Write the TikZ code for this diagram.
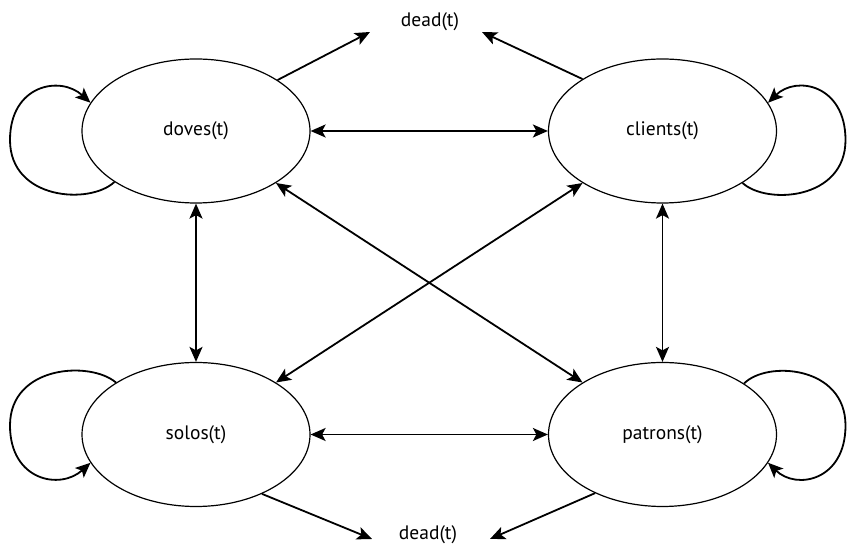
\documentclass[tikz,border=0pt]{standalone}
\usepackage{fontspec}
\setmainfont{PT Sans}
\usetikzlibrary{arrows.meta,calc,shapes.geometric}
\begin{document}
\begin{tikzpicture}[x=1pt,y=1pt,
  state/.style={ellipse,draw,line width=1.2pt,minimum width=228pt,minimum height=144pt,inner sep=0pt,font=\fontsize{19.5}{22}\selectfont},
  lbl/.style={font=\fontsize{19.5}{22}\selectfont,inner sep=0pt},
  conn/.style={line width=1.8pt,-{Stealth[length=15pt,width=13pt,inset=3.5pt]}},
  bconn/.style={line width=1.8pt,{Stealth[length=15pt,width=13pt,inset=3.5pt]}-{Stealth[length=15pt,width=13pt,inset=3.5pt]}}]
\useasboundingbox (0,0) rectangle (847,546);
\node[state] (doves) at (196,415) {doves(t)};
\node[state] (clients) at (662.5,415) {clients(t)};
\node[state] (solos) at (196,111.5) {solos(t)};
\node[state] (patrons) at (662.5,111.5) {patrons(t)};
\node[lbl] (deadtop) at (430,524) {dead(t)};
\node[lbl] (deadbot) at (428,11) {dead(t)};
\coordinate (dtl) at (370,514);
\coordinate (dtr) at (482,514);
\coordinate (dbl) at (372,7);
\coordinate (dbr) at (490,7);
% between states
\draw[bconn] (doves.east) -- (clients.west);
\draw[bconn] (solos.east) -- (patrons.west);
\draw[bconn] (doves.south) -- (solos.north);
\draw[bconn] (clients.south) -- (patrons.north);
\draw[bconn] (doves) -- (patrons);
\draw[bconn] (clients) -- (solos);
% to dead
\draw[conn] (doves.32) -- (dtl);
\draw[conn] (clients.147.3) -- (dtr);
\draw[conn] (solos.318.5) -- (dbl);
\draw[conn] (patrons.221.8) -- (dbr);
% self loops
\draw[conn] (doves.212.6) .. controls ($(doves)+(-106,-74)$) and ($(doves)+(-186,-69)$) .. ($(doves)+(-186,-9)$)
  .. controls ($(doves)+(-186,46)$) and ($(doves)+(-136,56)$) .. (doves.165);
\draw[conn] (solos.147.4) .. controls ($(solos)+(-106,74)$) and ($(solos)+(-186,69)$) .. ($(solos)+(-186,9)$)
  .. controls ($(solos)+(-186,-46)$) and ($(solos)+(-136,-56)$) .. (solos.195);
\draw[conn] (clients.327.4) .. controls ($(clients)+(104,-74)$) and ($(clients)+(183,-69)$) .. ($(clients)+(183,-9)$)
  .. controls ($(clients)+(183,46)$) and ($(clients)+(134,56)$) .. (clients.15);
\draw[conn] (patrons.32.6) .. controls ($(patrons)+(104,74)$) and ($(patrons)+(183,69)$) .. ($(patrons)+(183,9)$)
  .. controls ($(patrons)+(183,-46)$) and ($(patrons)+(134,-56)$) .. (patrons.345);
\end{tikzpicture}
\end{document}
